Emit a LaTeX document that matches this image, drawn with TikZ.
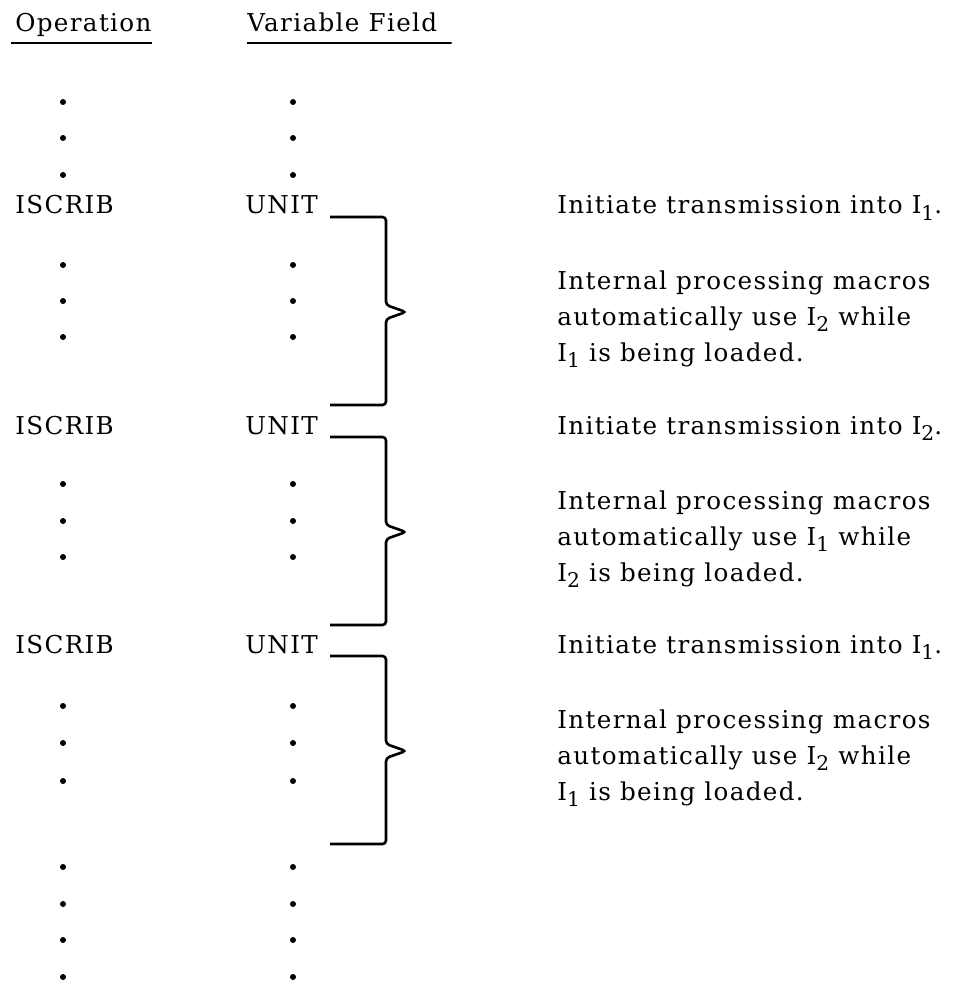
\documentclass[tikz,border=0pt]{standalone}
\usepackage{fontspec}
\setmainfont{DejaVu Serif}[LetterSpace=5.5]
\usetikzlibrary{positioning}

\newcommand{\Isub}[1]{I\raisebox{-0.5ex}{\fontsize{11.5}{12}\selectfont #1}}

\begin{document}
\begin{tikzpicture}[x=0.2mm,y=-0.2mm,
  txt/.style={anchor=base west,inner sep=0pt,font=\fontsize{14}{20.4}\selectfont},
  para/.style={txt,align=left},
  dot/.style={circle,fill,inner sep=0pt,minimum size=1.2mm},
  brace/.style={line width=1.5pt,rounded corners=2pt},
  rule/.style={line width=1pt}]

\useasboundingbox (0,0) rectangle (972,983);

% column heads
\node[txt] (op)  at (15,32)  {Operation};
\node[txt] (var) at (247,32) {Variable Field};
\draw[rule] ([shift={(-4,11)}]op.base west)  -- ([yshift=-2.2mm]op.base east);
\draw[rule] ([yshift=-2.2mm]var.base west) -- ([shift={(14,11)}]var.base east);

% the three ISCRIB lines
\foreach \r/\y/\a/\b in {1/214/1/2, 2/434/2/1, 3/653/1/2} {
  \node[txt] (op\r)  at (15,\y)  {ISCRIB};
  \node[txt] (var\r) at (245,\y) {UNIT};
  \node[txt] (note\r) at (557,\y) {Initiate transmission into \Isub{\a}.};
  \node[para] (para\r) at (557,\y+147) {Internal processing macros\\
      automatically use \Isub{\b} while\\ \Isub{\a} is being loaded.};
  \coordinate (b\r) at (330,\y+3);
  \draw[brace] (b\r) -- ++(56,0) -- ++(0,88) -- ++(20,7) -- ++(-20,7)
      -- ++(0,86) -- ++(-56,0);
}

% dots
\foreach \y [count=\i] in {102,138,175,265,301,337,484,521,557,706,743,781,867,904,940,977} {
  \node[dot] (lo\i) at (63,\y) {};
  \node[dot] (ri\i) at (293,\y) {};
}

\end{tikzpicture}
\end{document}
